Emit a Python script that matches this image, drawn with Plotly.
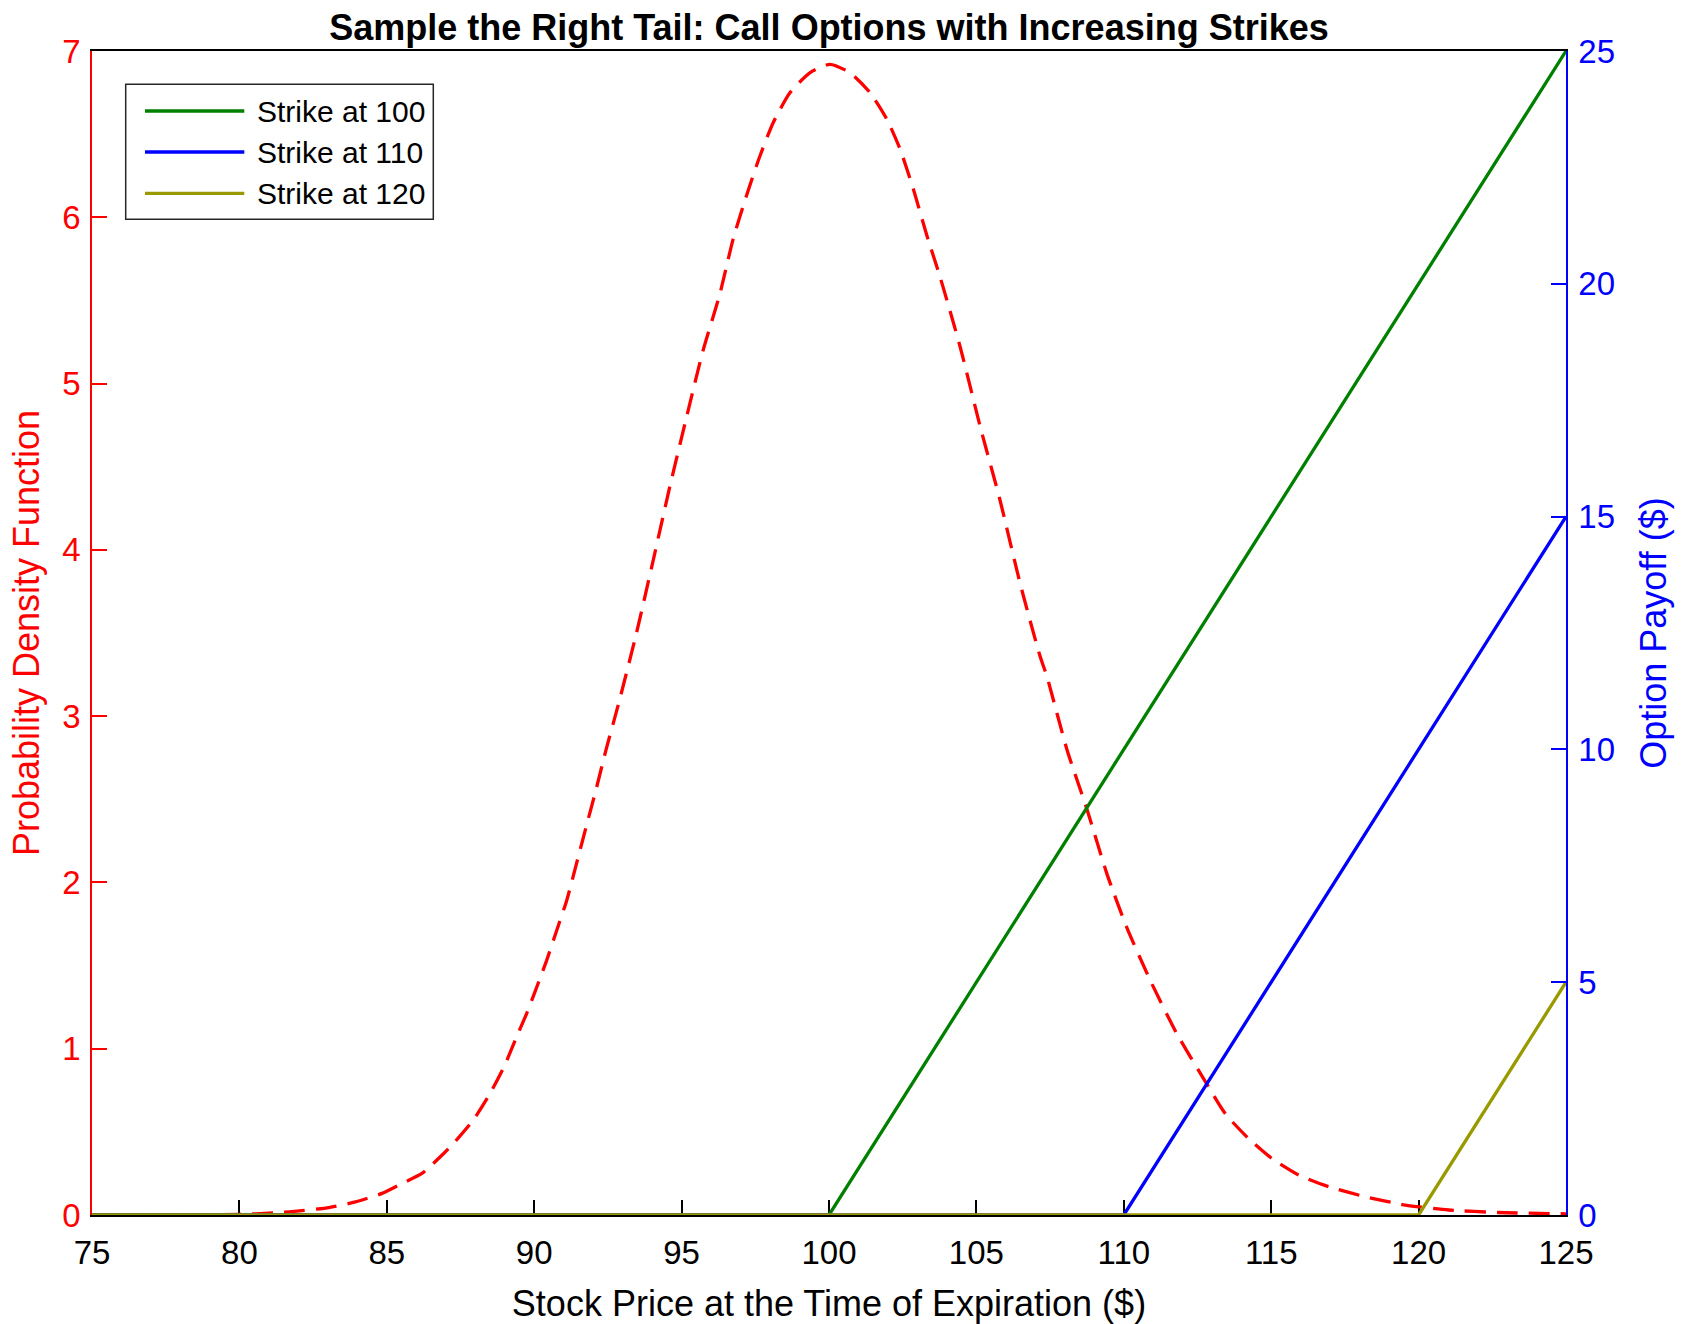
import plotly.graph_objects as go

# ---- data ----
price_pdf = [75, 78, 79.4, 80.56, 81.69, 83.04, 83.94, 84.84, 85.52, 86.19, 86.93, 87.26,
             87.93, 88.5, 89.0, 89.4, 89.74, 90.0, 90.42, 90.76, 91.1, 91.43, 91.77, 92.1,
             92.44, 92.84, 93.47, 94.04, 94.6, 95.17, 95.73, 96.3, 96.75, 97.2, 97.66,
             98.11, 98.68, 99.36, 100.03, 100.71, 101.39, 101.96, 102.41, 102.86, 103.32,
             103.77, 104.45, 105.13, 105.8, 106.48, 107.16, 107.39, 108.07, 108.75, 109.43,
             110.1, 110.9, 111.8, 112.74, 113.44, 114.23, 115.02, 115.93, 116.95, 118.19,
             119.55, 121.02, 122.7, 125]
pdf_values = [0.0, 0.0005, 0.002, 0.007, 0.019, 0.045, 0.079, 0.13, 0.19, 0.25, 0.37, 0.43,
              0.57, 0.73, 0.90, 1.07, 1.21, 1.33, 1.53, 1.71, 1.89, 2.11, 2.34, 2.56,
              2.80, 3.06, 3.50, 3.94, 4.38, 4.80, 5.20, 5.54, 5.87, 6.13, 6.37,
              6.57, 6.75, 6.87, 6.92, 6.87, 6.75, 6.59, 6.41, 6.17, 5.89,
              5.64, 5.22, 4.74, 4.30, 3.80, 3.36, 3.24, 2.80, 2.44, 2.05,
              1.73, 1.41, 1.09, 0.81, 0.61, 0.46, 0.34, 0.24, 0.17, 0.11,
              0.06, 0.03, 0.015, 0.007]

strikes = [100, 110, 120]
strike_names = ["Strike at 100", "Strike at 110", "Strike at 120"]
strike_colors = ["#008000", "#0000ff", "#999900"]
x_min, x_max = 75, 125
payoff_x = [[x_min, k, x_max] for k in strikes]
payoff_y = [[0, 0, x_max - k] for k in strikes]

x_ticks = [75, 80, 85, 90, 95, 100, 105, 110, 115, 120, 125]
left_ticks = [0, 1, 2, 3, 4, 5, 6, 7]
right_ticks = [0, 5, 10, 15, 20, 25]

FONT = "Liberation Sans, Arial, Helvetica, sans-serif"

FW, FH = 1686, 1324
L, T, PW, PH = 92, 51, 1474, 1164   # page coordinates of plot area

fig = go.Figure()
fig.add_trace(go.Scatter(
    x=price_pdf, y=pdf_values, mode="lines", yaxis="y",
    line=dict(color="#ff0000", width=3.3, dash="21px,11px", shape="spline", smoothing=0.6),
    showlegend=False, hoverinfo="x+y"))

for xs, ys, name, col in zip(payoff_x, payoff_y, strike_names, strike_colors):
    fig.add_trace(go.Scatter(
        x=xs, y=ys, mode="lines", yaxis="y2", name=name,
        line=dict(color=col, width=3.3), showlegend=False, cliponaxis=False))

# ---- custom legend (MATLAB style box) ----
def xp(px):
    return (px - L) / PW
def yp(py):
    return (T + PH - py) / PH

shapes = [dict(type="rect", xref="paper", yref="paper",
               x0=xp(125.7), x1=xp(433.3), y0=yp(219.3), y1=yp(84.3),
               line=dict(color="#262626", width=1.5), fillcolor="white", layer="above")]
annotations = []
row_y = [111, 152, 193.3]
for ry, name, col in zip(row_y, strike_names, strike_colors):
    shapes.append(dict(type="line", xref="paper", yref="paper",
                       x0=xp(145), x1=xp(244.3), y0=yp(ry), y1=yp(ry),
                       line=dict(color=col, width=3.3), layer="above"))
    annotations.append(dict(xref="paper", yref="paper", x=xp(255), y=yp(ry),
                            xanchor="left", yanchor="middle", showarrow=False,
                            text=name, font=dict(family=FONT, size=30, color="black")))

fig.update_layout(
    width=FW, height=FH, autosize=False,
    margin=dict(l=L, r=FW - L - PW, t=T, b=FH - T - PH, pad=0, autoexpand=False),
    paper_bgcolor="white", plot_bgcolor="white",
    font=dict(family=FONT, color="black"),
    title=dict(text="Sample the Right Tail: Call Options with Increasing Strikes",
               x=0.5, xref="paper", xanchor="center",
               y=1 - 27 / FH, yref="container", yanchor="middle",
               font=dict(family=FONT, size=36, color="black", weight="bold")),
    xaxis=dict(range=[x_min, x_max], tickvals=x_ticks, ticks="inside", ticklen=15,
               tickwidth=1.5, tickcolor="black", showline=True, linecolor="black",
               linewidth=1.5, mirror=True, showgrid=False, zeroline=False,
               tickfont=dict(size=33, color="black"), layer="below traces",
               ticklabelstandoff=8, automargin=False,
               title=dict(text="Stock Price at the Time of Expiration ($)",
                          font=dict(size=36, color="black"), standoff=22)),
    yaxis=dict(range=[0, 7], tickvals=left_ticks, ticks="inside", ticklen=15,
               tickwidth=1.5, tickcolor="#ff0000", showline=True, linecolor="#ff0000",
               linewidth=1.5, showgrid=False, zeroline=False, automargin=False,
               tickfont=dict(size=33, color="#ff0000"), ticklabelstandoff=3,
               title=dict(text="Probability Density Function",
                          font=dict(size=36, color="#ff0000"), standoff=12)),
    yaxis2=dict(range=[0, 25], tickvals=right_ticks, ticks="inside", ticklen=15,
                tickwidth=1.5, tickcolor="#0000ff", showline=True, linecolor="#0000ff",
                linewidth=1.5, showgrid=False, zeroline=False, overlaying="y", side="right",
                automargin=False,
                tickfont=dict(size=33, color="#0000ff"), ticklabelstandoff=4,
                title=dict(text="Option Payoff ($)",
                           font=dict(size=36, color="#0000ff"), standoff=27)),
    shapes=shapes, annotations=annotations, showlegend=False,
)

# remove the browser's default 8px page margin so the figure fills the window exactly
fig.write_html("out.html",
               config={"displayModeBar": False},
               post_script="document.body.style.margin='0';document.body.style.overflow='hidden';")
